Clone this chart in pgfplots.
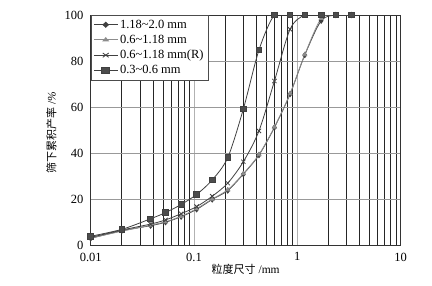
\documentclass[border=0pt]{standalone}
\usepackage{pgfplots}
\pgfplotsset{compat=1.18}
\usepackage{fontspec}
\setmainfont{Liberation Serif}
\newfontfamily\cjk{Noto Sans CJK SC}
\begin{document}
\fontsize{12}{14}\selectfont
\begin{tikzpicture}
\path[use as bounding box] (-90.7pt,-40pt) rectangle (341.3pt,245pt);
\begin{axis}[
  at={(0pt,0pt)}, anchor=south west,
  scale only axis, width=310pt, height=230pt,
  xmode=log, xmin=0.01, xmax=10, ymin=0, ymax=100,
  log basis x=10,
  xtick={0.01,0.1,1,10}, xticklabels={0.01,0.1,1,10},
  minor xtick={0.02,0.03,0.04,0.05,0.06,0.07,0.08,0.09,0.2,0.3,0.4,0.5,0.6,0.7,0.8,0.9,2,3,4,5,6,7,8,9},
  ytick={0,20,40,60,80,100},
  /pgf/number format/assume math mode=true,
  tick label style={font=\fontsize{12.5}{14}\selectfont},
  xticklabel style={yshift=-3.5pt},
  yticklabel style={xshift=-3pt},
  major tick length=0pt, minor tick length=0pt,
  xmajorgrids, xminorgrids, ymajorgrids,
  minor x grid style={black!85, line width=0.8pt},
  major x grid style={black!30, line width=0.8pt},
  y grid style={black!40, line width=0.8pt},
  axis line style={black!80, line width=0.9pt},
  xlabel={{\cjk\fontsize{11}{13}\selectfont 粒度尺寸} /mm},
  ylabel={{\cjk\fontsize{11}{13}\selectfont 筛下累积产率} /\textit{\%}},
  xlabel style={at={(axis description cs:0.5,0)}, anchor=north, yshift=-15pt, font=\fontsize{11.5}{13}\selectfont},
  ylabel style={at={(axis description cs:0,0.49)}, anchor=south, yshift=30pt, font=\fontsize{11.5}{13}\selectfont},
  legend style={at={(0,1)}, anchor=north west, draw=black!70, fill=white,
     font=\fontsize{12.5}{14}\selectfont, row sep=1pt, inner sep=2.5pt, cells={anchor=west}},
  legend image post style={xscale=1.4},
]
\addplot[black!75, line width=0.8pt, smooth, mark=diamond*, mark size=2.6pt, mark options={fill=black!75}] coordinates {
(0.01,2.9)(0.02,6.2)(0.038,8.4)(0.053,9.9)(0.075,12.3)(0.106,15.5)(0.15,19.8)(0.212,23.7)(0.3,30.8)(0.425,39.1)(0.6,51.1)(0.85,65.6)(1.18,82.6)(1.7,97.5)(2.36,100)(3.35,100)};
\addlegendentry{1.18\char`~2.0 mm}
\addplot[black!45, line width=0.8pt, smooth, mark=triangle*, mark size=2.2pt, mark options={fill=black!45}] coordinates {
(0.01,3.0)(0.02,6.0)(0.038,8.6)(0.053,10.1)(0.075,12.5)(0.106,15.8)(0.15,20.0)(0.212,24.0)(0.3,31.0)(0.425,39.3)(0.6,51.3)(0.85,65.8)(1.18,82.8)(1.7,98.5)(2.36,100)(3.35,100)};
\addlegendentry{0.6\char`~1.18 mm}
\addplot[black!75, line width=0.8pt, smooth, mark=x, mark size=3pt] coordinates {
(0.01,3.3)(0.02,6.5)(0.038,9.1)(0.053,10.9)(0.075,13.6)(0.106,16.7)(0.15,21.2)(0.212,26.9)(0.3,36.2)(0.425,49.6)(0.6,71.3)(0.85,93.8)(1.18,100)(1.7,100)(2.36,100)(3.35,100)};
\addlegendentry{0.6\char`~1.18 mm(R)}
\addplot[black!75, line width=0.8pt, smooth, mark=square*, mark size=2.8pt, mark options={fill=black!70}] coordinates {
(0.01,3.8)(0.02,6.8)(0.038,11.4)(0.053,14.1)(0.075,17.6)(0.106,22.0)(0.15,28.3)(0.212,38.0)(0.3,59.1)(0.425,84.8)(0.6,100)(0.85,100)(1.18,100)(1.7,100)(2.36,100)(3.35,100)};
\addlegendentry{0.3\char`~0.6 mm}
\end{axis}
\end{tikzpicture}
\end{document}
